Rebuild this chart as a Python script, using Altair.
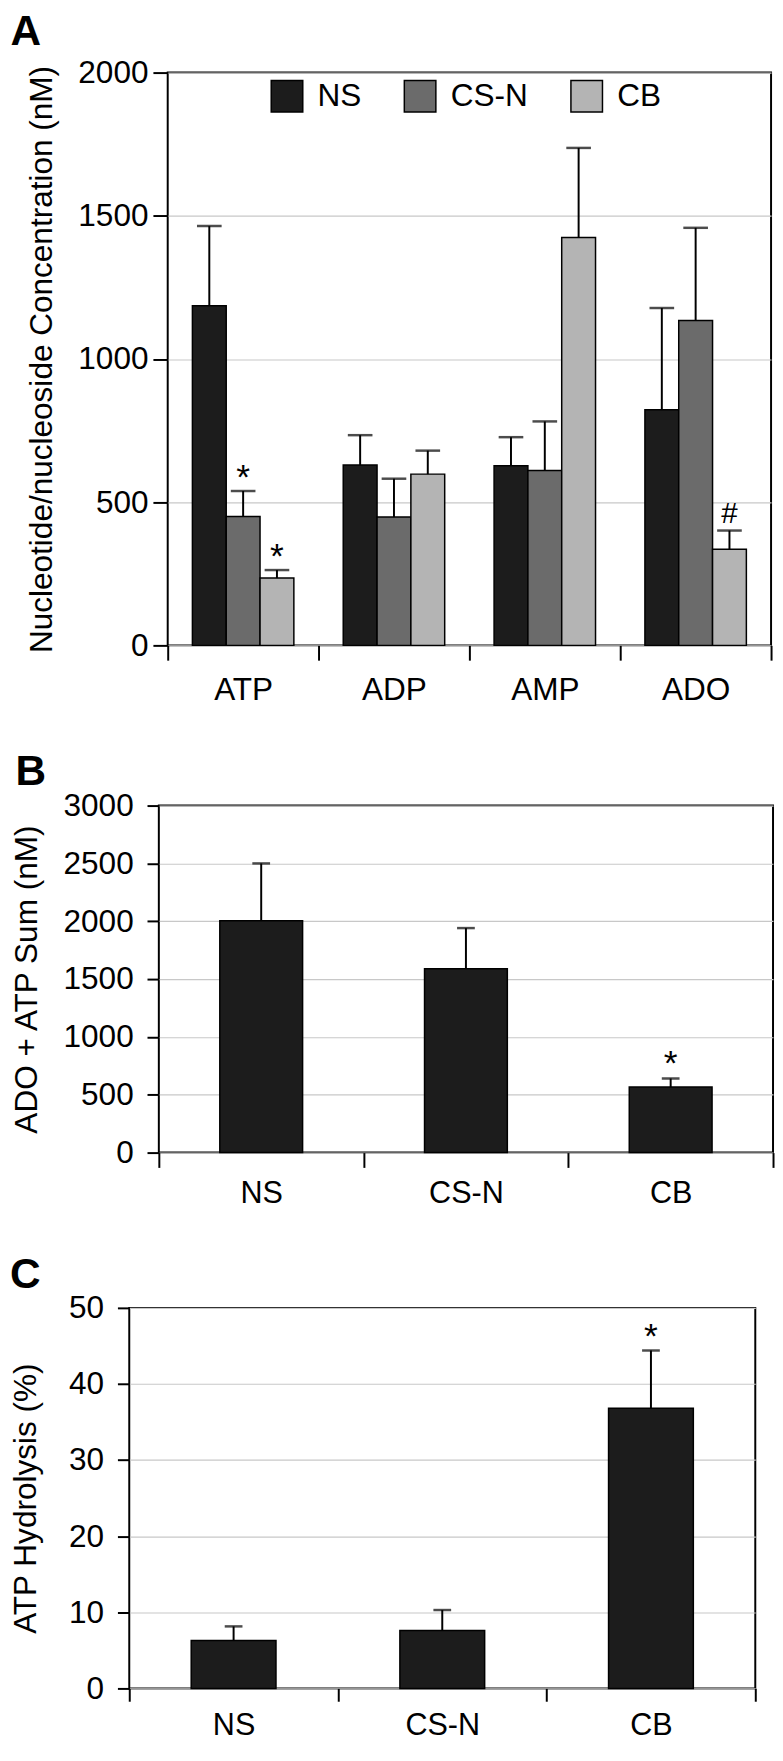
import altair as alt
import pandas as pd

FONT = "Liberation Sans"

# ---------------- data ----------------
nuc_categories = ["ATP", "ADP", "AMP", "ADO"]
groups = ["NS", "CS-N", "CB"]
group_colors = ["#1c1c1c", "#6b6b6b", "#b4b4b4"]

ns_mean = [1186, 630, 627, 823]
ns_sem = [278, 104, 100, 355]
ns_sig = ["", "", "", ""]
csn_mean = [450, 448, 611, 1134]
csn_sem = [89, 134, 171, 324]
csn_sig = ["*", "", "", ""]
cb_mean = [235, 598, 1424, 336]
cb_sem = [28, 82, 313, 65]
cb_sig = ["*", "", "", "#"]

sum_mean = [2005, 1590, 567]
sum_sem = [495, 351, 74]
sum_sig = ["", "", "*"]

hyd_mean = [6.3, 7.6, 36.8]
hyd_sem = [1.85, 2.7, 7.6]
hyd_sig = ["", "", "*"]

# ---------------- tables ----------------
rows = []
for g, means, sems, sigs in [("NS", ns_mean, ns_sem, ns_sig),
                             ("CS-N", csn_mean, csn_sem, csn_sig),
                             ("CB", cb_mean, cb_sem, cb_sig)]:
    for c, m, s, t in zip(nuc_categories, means, sems, sigs):
        rows.append({"cat": c, "grp": g, "mean": m, "sem": s, "sig": t})
df_a = pd.DataFrame(rows)
df_b = pd.DataFrame({"grp": groups, "mean": sum_mean, "sem": sum_sem, "sig": sum_sig})
df_c = pd.DataFrame({"grp": groups, "mean": hyd_mean, "sem": hyd_sem, "sig": hyd_sig})

LBL = 32


def panel_title(letter, dx, offset):
    return alt.Title(letter, anchor="start", frame="group", dx=dx, offset=offset,
                     fontSize=43, fontWeight="bold", font=FONT, color="black")


def spacer():
    return alt.Chart(pd.DataFrame({"v": [0]})).mark_point(
        opacity=0, size=0, strokeWidth=0).encode(
        x=alt.X("v:Q", axis=None), y=alt.Y("v:Q", axis=None)
    ).properties(width=1, height=1, view=alt.ViewBackground(strokeOpacity=0))


# ---------------- panel A ----------------
x_a = alt.X("cat:N", sort=nuc_categories,
            scale=alt.Scale(paddingInner=0, paddingOuter=0),
            axis=alt.Axis(title=None, tickBand="extent", labelAngle=0, tickSize=15,
                          labelPadding=15, labelFontSize=32, domain=False, grid=False))
xo_a = alt.XOffset("grp:N", sort=groups,
                   scale=alt.Scale(paddingInner=0, paddingOuter=0.73))
y_a_scale = alt.Scale(domain=[0, 2000], nice=False)
y_a = alt.Y("mean:Q", scale=y_a_scale,
            axis=alt.Axis(values=[0, 500, 1000, 1500, 2000], format="d",
                          title="Nucleotide/nucleoside Concentration (nM)",
                          tickSize=15, labelPadding=5, titlePadding=20,
                          labelFontSize=LBL, titleFontSize=32, domain=False, grid=True))

base_a = alt.Chart(df_a).transform_calculate(top="datum.mean + datum.sem")
bars_a = base_a.mark_bar(stroke="black", strokeWidth=1.5).encode(
    x=x_a, xOffset=xo_a, y=y_a,
    color=alt.Color("grp:N", sort=groups,
                    scale=alt.Scale(domain=groups, range=group_colors),
                    legend=alt.Legend(orient="none", legendX=104, legendY=7,
                                      direction="horizontal", title=None,
                                      symbolType="square", symbolSize=1024,
                                      symbolStrokeColor="black", symbolStrokeWidth=1.5,
                                      symbolOpacity=1,
                                      labelFontSize=32, labelFont=FONT, labelColor="black",
                                      labelOffset=14, columnPadding=40, padding=0)))
err_a = base_a.mark_rule(color="black", strokeWidth=2).encode(
    x=x_a, xOffset=xo_a, y=alt.Y("mean:Q", scale=y_a_scale), y2="top:Q")
cap_a = base_a.mark_tick(color="black", thickness=2.5, size=25).encode(
    x=x_a, xOffset=xo_a, y=alt.Y("top:Q", scale=y_a_scale))
star_a = base_a.transform_filter("datum.sig == '*'").mark_text(
    font=FONT, fontSize=36, baseline="alphabetic", dy=-2, color="black").encode(
    x=x_a, xOffset=xo_a, y=alt.Y("top:Q", scale=y_a_scale), text="sig:N")
hash_a = base_a.transform_filter("datum.sig == '#'").mark_text(
    font=FONT, fontSize=30, baseline="alphabetic", dy=-8, color="black").encode(
    x=x_a, xOffset=xo_a, y=alt.Y("top:Q", scale=y_a_scale), text="sig:N")

panel_a = alt.layer(bars_a, err_a, cap_a, star_a, hash_a).properties(
    width=612, height=581, title=panel_title("A", -159.5, 3))


# ---------------- panels B and C ----------------
def simple_panel(df, ymax, ystep, ytitle, width, height, barw, capw,
                 ytick, ylabpad, ytitlepad, xtick, xlabpad, xlabsize, letter, dx, offset):
    xs = alt.X("grp:N", sort=groups, scale=alt.Scale(paddingInner=0, paddingOuter=0),
               axis=alt.Axis(title=None, tickBand="extent", labelAngle=0, tickSize=xtick,
                             labelPadding=xlabpad, labelFontSize=xlabsize, domain=False,
                             grid=False))
    ysc = alt.Scale(domain=[0, ymax], nice=False)
    ys = alt.Y("mean:Q", scale=ysc,
               axis=alt.Axis(values=list(range(0, ymax + 1, ystep)), format="d",
                             title=ytitle,
                             tickSize=ytick, labelPadding=ylabpad, titlePadding=ytitlepad,
                             labelFontSize=LBL, titleFontSize=32, domain=False, grid=True))
    base = alt.Chart(df).transform_calculate(top="datum.mean + datum.sem")
    bars = base.mark_bar(size=barw, color=group_colors[0], stroke="black",
                         strokeWidth=1.5).encode(x=xs, y=ys)
    err = base.mark_rule(color="black", strokeWidth=2).encode(
        x=xs, y=alt.Y("mean:Q", scale=ysc), y2="top:Q")
    cap = base.mark_tick(color="black", thickness=2.5, size=capw).encode(
        x=xs, y=alt.Y("top:Q", scale=ysc))
    star = base.transform_filter("datum.sig == '*'").mark_text(
        font=FONT, fontSize=36, baseline="alphabetic", dy=-3, color="black").encode(
        x=xs, y=alt.Y("top:Q", scale=ysc), text="sig:N")
    return alt.layer(bars, err, cap, star).properties(
        width=width, height=height, title=panel_title(letter, dx, offset))


panel_b = simple_panel(df_b, 3000, 500, "ADO + ATP Sum (nM)", 623, 352, 84, 18,
                       12, 14, 20, 15, 12, 31, "B", -145.5, -4.5)
panel_c = simple_panel(df_c, 50, 10, "ATP Hydrolysis (%)", 635, 386, 86, 18,
                       12, 14, 26, 13, 10, 31, "C", -121, -5)


def row(panel):
    return alt.hconcat(spacer(), panel, spacing=0).resolve_scale(
        color="independent").resolve_legend(color="independent")


chart = alt.vconcat(row(panel_a), row(panel_b), row(panel_c), spacing=44.5).resolve_scale(
    color="independent").resolve_legend(color="independent").properties(
    padding={"left": 0, "top": -10, "right": 0, "bottom": 0}
).configure_view(
    stroke="black", strokeWidth=2
).configure_axis(
    labelFont=FONT, titleFont=FONT, labelColor="black", titleColor="black",
    tickColor="black", tickWidth=2, gridColor="#c8c8c8", gridWidth=1.2,
    titleFontWeight="normal"
)

chart.save("out.html", embed_options={"renderer": "svg", "actions": False})
